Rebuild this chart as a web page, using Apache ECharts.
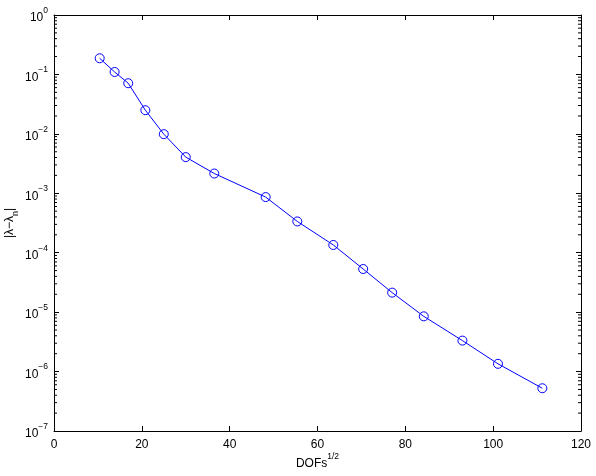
<!DOCTYPE html>
<html>
<head>
<meta charset="utf-8">
<script src="https://cdn.jsdelivr.net/npm/echarts@6/dist/echarts.min.js"></script>
<style>html,body{margin:0;padding:0;background:#fff;}#c{width:596px;height:476px;}</style>
</head>
<body>
<div id="c"></div>
<script>
var dofsSqrt = [10.4, 13.8, 16.9, 20.8, 25.0, 30.0, 36.5, 48.2, 55.4, 63.6, 70.4, 77.0, 84.2, 93.0, 101.1, 111.2];
var errors = [0.187, 0.110, 0.0711, 0.0250, 0.00989, 0.00406, 0.00215, 0.000863, 0.000336, 0.000135, 0.0000532, 0.0000213, 0.0000085, 0.00000332, 0.00000135, 0.000000524];
var xTicks = [0, 20, 40, 60, 80, 100, 120];
var yExponents = [-7, -6, -5, -4, -3, -2, -1, 0];

var minorVals = [];
for (var e = -7; e < 0; e++) {
  for (var k = 2; k <= 9; k++) minorVals.push([0, k * Math.pow(10, e)]);
}

var font = 'Liberation Sans, Arial, sans-serif';
var chart = echarts.init(document.getElementById('c'), null, {renderer: 'canvas'});
var yLabelRich = {
  b: {fontSize: 12, fontFamily: font, color: '#000', lineHeight: 18, verticalAlign: 'bottom'},
  s: {fontSize: 8.5, fontFamily: font, color: '#000', lineHeight: 18, verticalAlign: 'top'}
};
function yFmt(v) {
  var ex = Math.round(Math.log10(v));
  var s = ex < 0 ? '\u2212' + (-ex) : String(ex);
  return '{b|10}{s|' + s + '}';
}
chart.setOption({
  animation: false,
  backgroundColor: '#fff',
  grid: {left: 54, right: 15, top: 15, bottom: 45, containLabel: false, outerBoundsMode: 'none'},
  xAxis: [{
    type: 'value', min: xTicks[0], max: xTicks[xTicks.length - 1], interval: 20,
    position: 'bottom',
    axisLine: {show: true, onZero: false, lineStyle: {color: '#000', width: 1}},
    axisTick: {show: true, inside: true, length: 5, lineStyle: {color: '#000'}},
    splitLine: {show: false},
    axisLabel: {color: '#000', fontSize: 12, fontFamily: font, margin: 8},
    name: '{b|DOFs}{s|1/2}',
    nameLocation: 'middle', nameGap: 21, nameMoveOverlap: false,
    nameTextStyle: {rich: {
      b: {fontSize: 12, fontFamily: font, color: '#000', lineHeight: 18, verticalAlign: 'bottom'},
      s: {fontSize: 8.5, fontFamily: font, color: '#000', lineHeight: 18, verticalAlign: 'top'}
    }}
  }, {
    type: 'value', min: xTicks[0], max: xTicks[xTicks.length - 1], interval: 20,
    position: 'top',
    axisLine: {show: true, onZero: false, lineStyle: {color: '#000', width: 1}},
    axisTick: {show: true, inside: true, length: 5, lineStyle: {color: '#000'}},
    splitLine: {show: false},
    axisLabel: {show: false}
  }],
  yAxis: [{
    type: 'log', logBase: 10, min: Math.pow(10, yExponents[0]), max: Math.pow(10, yExponents[yExponents.length - 1]), interval: 1,
    position: 'left',
    axisLine: {show: true, onZero: false, lineStyle: {color: '#000', width: 1}},
    axisTick: {show: true, inside: true, length: 5, lineStyle: {color: '#000'}},
    minorTick: {show: false},
    splitLine: {show: false},
    axisLabel: {formatter: yFmt, rich: yLabelRich, margin: 6},
    name: '{b|\u007C\u03BB\u2212\u03BB}{s|n}{b|\u007C}',
    nameLocation: 'middle', nameRotate: 90, nameGap: 34, nameMoveOverlap: false,
    nameTextStyle: {rich: {
      b: {fontSize: 12, fontFamily: font, color: '#000', lineHeight: 16, verticalAlign: 'top'},
      s: {fontSize: 9, fontFamily: font, color: '#000', lineHeight: 16, verticalAlign: 'bottom'}
    }}
  }, {
    type: 'log', logBase: 10, min: Math.pow(10, yExponents[0]), max: Math.pow(10, yExponents[yExponents.length - 1]), interval: 1,
    position: 'right',
    axisLine: {show: true, onZero: false, lineStyle: {color: '#000', width: 1}},
    axisTick: {show: true, inside: true, length: 5, lineStyle: {color: '#000'}},
    splitLine: {show: false},
    axisLabel: {show: false}
  }],
  series: [{
    type: 'line',
    xAxisIndex: 0, yAxisIndex: 0,
    data: dofsSqrt.map(function (x, i) { return [x, errors[i]]; }),
    symbol: 'circle', symbolSize: 9,
    itemStyle: {color: 'rgba(0,0,0,0)', borderColor: '#0000ff', borderWidth: 1},
    lineStyle: {color: '#0000ff', width: 1},
    showAllSymbol: true
  }, {
    type: 'custom',
    xAxisIndex: 0, yAxisIndex: 0,
    silent: true, clip: false,
    data: minorVals,
    renderItem: function (params, api) {
      var v = api.value(1);
      var l = api.coord([xTicks[0], v]);
      var r = api.coord([xTicks[xTicks.length - 1], v]);
      return {
        type: 'group',
        children: [
          {type: 'line', shape: {x1: l[0], y1: l[1], x2: l[0] + 3, y2: l[1]}, style: {stroke: '#000', lineWidth: 1}},
          {type: 'line', shape: {x1: r[0], y1: r[1], x2: r[0] - 3, y2: r[1]}, style: {stroke: '#000', lineWidth: 1}}
        ]
      };
    }
  }]
});
</script>
</body>
</html>
